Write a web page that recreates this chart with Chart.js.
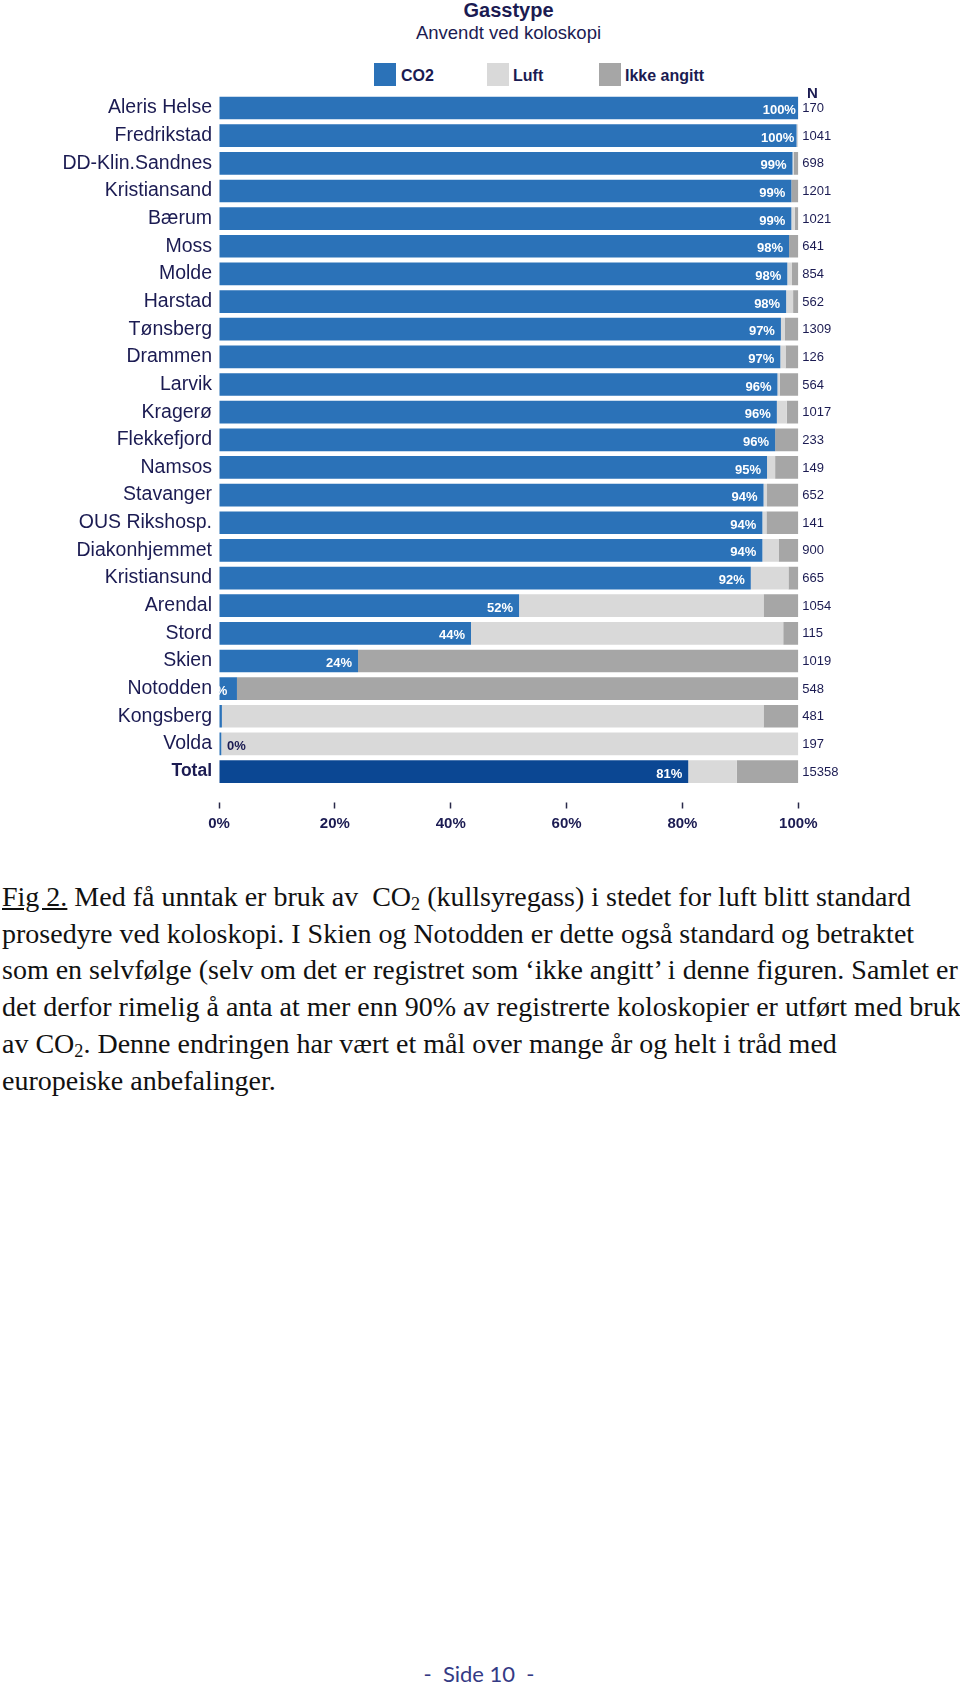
<!DOCTYPE html>
<html lang="no">
<head>
<meta charset="utf-8">
<title>Gasstype - Anvendt ved koloskopi</title>
<script src="https://cdn.jsdelivr.net/npm/chart.js@4.4.1/dist/chart.umd.min.js"></script>
<style>
  html, body { margin: 0; padding: 0; background: #fff; }
  body { width: 960px; height: 1689px; position: relative; overflow: hidden; font-family: "Liberation Sans", Arial, sans-serif; }
  .abs { position: absolute; white-space: nowrap; }
  .head { left: 0; width: 1017px; text-align: center; color: #1b1b52; }
  .legend-box { position: absolute; width: 22px; height: 23px; }
  .legend-txt { position: absolute; font-weight: bold; font-size: 16px; line-height: 16px; color: #1b1b52; }
  #chartWrap { position: absolute; left: 0; top: 0; width: 960px; height: 850px; }
  .para { left: 2px; top: 879px; font-family: "Liberation Serif", "Times New Roman", serif; font-size: 28px; line-height: 36.7px; color: #111; }
  .para sub { font-size: 0.65em; vertical-align: -0.2em; line-height: 0; }
  .footer { left: 0; width: 958px; top: 1663px; text-align: center; font-family: Lato, "Open Sans", sans-serif; font-size: 22px; line-height: 22px; color: #343a85; }
</style>
</head>
<body>

<div class="abs head" style="top:0; font-weight:bold; font-size:20px; line-height:20px;">Gasstype</div>
<div class="abs head" style="top:24px; font-size:18.5px; line-height:18.5px;">Anvendt ved koloskopi</div>

<!-- legend -->
<div class="legend-box" style="left:374px; top:62.5px; background:#2b72b8;"></div>
<div class="legend-txt" style="left:401px; top:68px;">CO2</div>
<div class="legend-box" style="left:487px; top:62.5px; background:#d9d9d9;"></div>
<div class="legend-txt" style="left:513px; top:68px;">Luft</div>
<div class="legend-box" style="left:599px; top:62.5px; background:#a6a6a6;"></div>
<div class="legend-txt" style="left:625px; top:68px;">Ikke angitt</div>

<div id="chartWrap"><canvas id="gassChart"></canvas></div>

<div class="abs para">
<u>Fig 2.</u> Med få unntak er bruk av&nbsp; CO<sub>2</sub> (kullsyregass) i stedet for luft blitt standard<br>
prosedyre ved koloskopi. I Skien og Notodden er dette også standard og betraktet<br>
som en selvfølge (selv om det er registret som ‘ikke angitt’ i denne figuren. Samlet er<br>
det derfor rimelig å anta at mer enn 90% av registrerte koloskopier er utført med bruk<br>
av CO<sub>2</sub>. Denne endringen har vært et mål over mange år og helt i tråd med<br>
europeiske anbefalinger.
</div>

<div class="abs footer">-&nbsp; Side 10 &nbsp;-</div>

<script>
// units (sykehus) in the order shown, top to bottom
const units = ['Aleris Helse', 'Fredrikstad', 'DD-Klin.Sandnes', 'Kristiansand', 'Bærum', 'Moss', 'Molde',
  'Harstad', 'Tønsberg', 'Drammen', 'Larvik', 'Kragerø', 'Flekkefjord', 'Namsos', 'Stavanger',
  'OUS Rikshosp.', 'Diakonhjemmet', 'Kristiansund', 'Arendal', 'Stord', 'Skien', 'Notodden',
  'Kongsberg', 'Volda', 'Total'];

// share in percent
const co2 = [100, 99.7, 99.0, 98.8, 98.8, 98.4, 98.1, 97.9, 97.0, 96.9, 96.4, 96.3, 96.0, 94.6, 94.0,
  93.8, 93.8, 91.8, 51.8, 43.5, 24.0, 3.1, 0.5, 0.4, 81.0];
const luft = [0, 0.3, 0.2, 0, 0.6, 0, 0.8, 1.2, 0.7, 0.9, 0.4, 1.7, 0, 1.4, 0.6,
  0.7, 2.8, 6.5, 42.2, 53.9, 0, 0, 93.5, 99.6, 8.4];
const ikkeAngitt = [0, 0, 0.8, 1.2, 0.6, 1.6, 1.1, 0.9, 2.3, 2.2, 3.2, 2.0, 4.0, 4.0, 5.4,
  5.5, 3.4, 1.7, 6.0, 2.6, 76.0, 96.9, 6.0, 0, 10.6];

// number of colonoscopies (N)
const nValues = [170, 1041, 698, 1201, 1021, 641, 854, 562, 1309, 126, 564, 1017, 233, 149, 652,
  141, 900, 665, 1054, 115, 1019, 548, 481, 197, 15358];

const xTickValues = [0, 20, 40, 60, 80, 100];

const NAVY = '#1b1b52';
const FONT = '"Liberation Sans", Arial, sans-serif';
Chart.defaults.font.family = FONT;

// percent labels on the CO2 bars + the N column on the right
const barText = {
  id: 'barText',
  afterDatasetsDraw(chart) {
    const { ctx, chartArea } = chart;
    const bars = chart.getDatasetMeta(0).data;

    ctx.save();
    ctx.font = 'bold 13px ' + FONT;
    ctx.textAlign = 'center';
    ctx.textBaseline = 'middle';
    bars.forEach((bar, i) => {
      const pct = Math.round(co2[i]);
      if (pct === 0) {
        ctx.fillStyle = NAVY;
        ctx.fillText(pct + '%', bar.x + 15, bar.y + 2.5);
      } else {
        // labels inside the bar end; too short bars get cut at the axis
        ctx.save();
        ctx.beginPath();
        ctx.rect(chartArea.left, chartArea.top, chartArea.right - chartArea.left, chartArea.bottom - chartArea.top);
        ctx.clip();
        ctx.fillStyle = '#ffffff';
        ctx.fillText(pct + '%', bar.x - 19, bar.y + 2.5);
        ctx.restore();
      }
    });

    ctx.font = '13px ' + FONT;
    ctx.textAlign = 'left';
    ctx.fillStyle = NAVY;
    bars.forEach((bar, i) => {
      ctx.fillText(String(nValues[i]), chartArea.right + 4, bar.y + 0.5);
    });

    ctx.font = 'bold 15px ' + FONT;
    ctx.textAlign = 'center';
    ctx.fillText('N', chartArea.right + 14, chartArea.top - 0.5);
    ctx.restore();
  }
};

const ctx = document.getElementById('gassChart').getContext('2d');
new Chart(ctx, {
  type: 'bar',
  data: {
    labels: units,
    datasets: [
      {
        label: 'CO2',
        data: co2,
        backgroundColor: (c) => c.dataIndex === units.length - 1 ? '#0b4793' : '#2b72b8'
      },
      { label: 'Luft', data: luft, backgroundColor: '#d9d9d9' },
      { label: 'Ikke angitt', data: ikkeAngitt, backgroundColor: '#a6a6a6' }
    ]
  },
  options: {
    indexAxis: 'y',
    responsive: true,
    maintainAspectRatio: false,
    animation: false,
    layout: { padding: { top: 94.2, right: 161.7, bottom: 0, left: 0 } },
    datasets: {
      bar: { categoryPercentage: 1, barPercentage: 0.82, borderWidth: 0 }
    },
    plugins: {
      legend: { display: false },
      tooltip: { enabled: false }
    },
    scales: {
      x: {
        stacked: true,
        min: 0,
        max: 100,
        afterBuildTicks: (scale) => { scale.ticks = xTickValues.map(v => ({ value: v })); },
        afterFit: (scale) => { scale.height = 64.6; },
        border: { display: false },
        grid: {
          drawOnChartArea: false,
          drawTicks: true,
          tickLength: 24,
          tickColor: '#2a2a4a',
          tickWidth: 1.5,
          tickBorderDash: [0, 17.5, 6, 100]
        },
        ticks: {
          padding: 5,
          color: NAVY,
          font: { size: 15, weight: 'bold' },
          callback: (v) => v + '%'
        }
      },
      y: {
        stacked: true,
        afterFit: (scale) => { scale.width = 219; },
        border: { display: false },
        grid: { display: false, drawTicks: false },
        ticks: {
          padding: 7,
          color: NAVY,
          font: (c) => c.index === units.length - 1
            ? { size: 17.5, weight: 'bold' }
            : { size: 19.5, weight: 'normal' }
        }
      }
    }
  },
  plugins: [barText]
});
</script>
</body>
</html>
